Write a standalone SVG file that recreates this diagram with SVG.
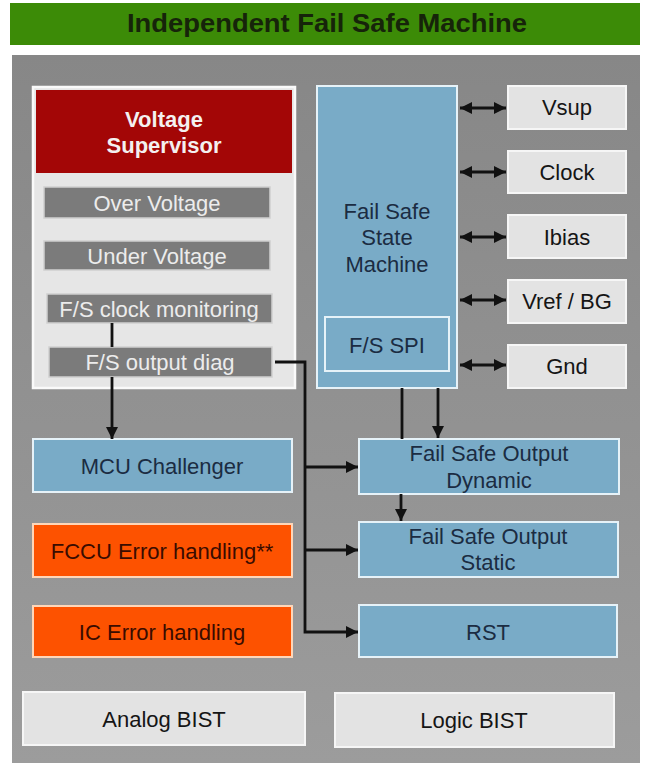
<svg xmlns="http://www.w3.org/2000/svg" width="646" height="763" viewBox="0 0 646 763">
  <defs>
    <linearGradient id="panelGrad" x1="0" y1="0" x2="0" y2="1">
      <stop offset="0" stop-color="#878787"/>
      <stop offset="1" stop-color="#9c9c9c"/>
    </linearGradient>
    <marker id="ah" viewBox="0 0 10 10" refX="10" refY="5" markerWidth="13" markerHeight="12" markerUnits="userSpaceOnUse" orient="auto-start-reverse">
      <path d="M0,0 L10,5 L0,10 z" fill="#111"/>
    </marker>
    <style>
      text { font-family: "Liberation Sans", Arial, sans-serif; font-size: 22px; text-anchor: middle; }
      .title { font-weight: bold; font-size: 25px; fill: #16240a; }
      .hdr { font-weight: bold; fill: #f4f0f0; }
      .blue rect { fill: #79abc7; stroke: #e6f2f8; stroke-width: 2; }
      .blue text { fill: #1b2c42; }
      .pill rect { fill: #7b7b7b; stroke: #d0d0d0; stroke-width: 1.5; }
      .pill text { fill: #ececec; }
      .orange rect { fill: #fd5200; stroke: #ffd6b8; stroke-width: 2; }
      .orange text { fill: #3a0c00; }
      .light rect { fill: #e3e3e3; stroke: #f6f6f6; stroke-width: 2; }
      .light text { fill: #151515; }
      .wire { fill: none; stroke: #111; stroke-width: 2.8; }
    </style>
  </defs>

  <!-- title bar and background panel -->
  <rect x="0" y="0" width="646" height="763" fill="#ffffff"/>
  <rect x="10" y="3" width="630" height="42" fill="#3c8b07"/>
  <text class="title" x="327" y="32" textLength="400" lengthAdjust="spacingAndGlyphs">Independent Fail Safe Machine</text>
  <rect x="12" y="55" width="628" height="708" fill="url(#panelGrad)"/>

  <!-- voltage supervisor block -->
  <g id="voltage-supervisor">
    <rect x="33" y="87" width="262" height="301" fill="#e6e6e6" stroke="#fafafa" stroke-width="2.5"/>
    <rect x="36" y="90" width="256" height="83" fill="#a30606"/>
    <text class="hdr" x="164" y="127">Voltage</text>
    <text class="hdr" x="164" y="153">Supervisor</text>
  </g>
  <g id="over-voltage" class="pill">
    <rect x="44" y="187" width="226" height="31"/>
    <text x="157" y="211">Over Voltage</text>
  </g>
  <g id="under-voltage" class="pill">
    <rect x="44" y="241" width="226" height="29"/>
    <text x="157" y="264">Under Voltage</text>
  </g>
  <g id="clock-monitoring" class="pill">
    <rect x="47" y="294" width="225" height="29"/>
    <text x="159" y="317">F/S clock monitoring</text>
  </g>
  <g id="output-diag" class="pill">
    <rect x="49" y="347" width="223" height="30"/>
    <text x="160" y="370">F/S output diag</text>
  </g>

  <!-- left column blocks -->
  <g id="mcu-challenger" class="blue">
    <rect x="33" y="439" width="259" height="53"/>
    <text x="162" y="474">MCU Challenger</text>
  </g>
  <g id="fccu-error" class="orange">
    <rect x="33" y="524" width="259" height="53"/>
    <text x="162" y="559">FCCU Error handling**</text>
  </g>
  <g id="ic-error" class="orange">
    <rect x="33" y="606" width="259" height="51"/>
    <text x="162" y="640">IC Error handling</text>
  </g>

  <!-- fail safe state machine -->
  <g id="state-machine" class="blue">
    <rect x="317" y="86" width="140" height="302"/>
    <text x="387" y="219">Fail Safe</text>
    <text x="387" y="245">State</text>
    <text x="387" y="272">Machine</text>
  </g>
  <g id="fs-spi" class="blue">
    <rect x="325" y="317" width="124" height="54" stroke-width="2.5"/>
    <text x="387" y="353">F/S SPI</text>
  </g>

  <!-- reference resources -->
  <g id="vsup" class="light">
    <rect x="508" y="86" width="118" height="43"/>
    <text x="567" y="115">Vsup</text>
  </g>
  <g id="clock" class="light">
    <rect x="508" y="151" width="118" height="42"/>
    <text x="567" y="180">Clock</text>
  </g>
  <g id="ibias" class="light">
    <rect x="508" y="215" width="118" height="43"/>
    <text x="567" y="245">Ibias</text>
  </g>
  <g id="vref-bg" class="light">
    <rect x="508" y="280" width="118" height="43"/>
    <text x="567" y="309">Vref / BG</text>
  </g>
  <g id="gnd" class="light">
    <rect x="508" y="345" width="118" height="43"/>
    <text x="567" y="374">Gnd</text>
  </g>

  <!-- outputs -->
  <g id="fso-dynamic" class="blue">
    <rect x="359" y="439" width="260" height="55"/>
    <text x="489" y="461">Fail Safe Output</text>
    <text x="489" y="488">Dynamic</text>
  </g>
  <g id="fso-static" class="blue">
    <rect x="359" y="522" width="259" height="55"/>
    <text x="488" y="544">Fail Safe Output</text>
    <text x="488" y="570">Static</text>
  </g>
  <g id="rst" class="blue">
    <rect x="359" y="605" width="258" height="52"/>
    <text x="488" y="640">RST</text>
  </g>

  <!-- built-in self tests -->
  <g id="analog-bist" class="light">
    <rect x="23" y="692" width="282" height="53"/>
    <text x="164" y="727">Analog BIST</text>
  </g>
  <g id="logic-bist" class="light">
    <rect x="335" y="693" width="279" height="54"/>
    <text x="474" y="728">Logic BIST</text>
  </g>

  <!-- connectors -->
  <g id="connectors">
    <line class="wire" x1="112" y1="323" x2="112" y2="347"/>
    <line class="wire" x1="112" y1="377" x2="112" y2="439" marker-end="url(#ah)"/>
    <polyline class="wire" points="275,362 305,362 305,632 358,632" marker-end="url(#ah)"/>
    <line class="wire" x1="305" y1="467" x2="358" y2="467" marker-end="url(#ah)"/>
    <line class="wire" x1="305" y1="550" x2="358" y2="550" marker-end="url(#ah)"/>
    <line class="wire" x1="402" y1="388" x2="402" y2="439"/>
    <line class="wire" x1="438" y1="388" x2="438" y2="438" marker-end="url(#ah)"/>
    <line class="wire" x1="401" y1="494" x2="401" y2="521" marker-end="url(#ah)"/>
    <line class="wire" x1="460" y1="108" x2="506" y2="108" marker-start="url(#ah)" marker-end="url(#ah)"/>
    <line class="wire" x1="460" y1="172" x2="506" y2="172" marker-start="url(#ah)" marker-end="url(#ah)"/>
    <line class="wire" x1="460" y1="237" x2="506" y2="237" marker-start="url(#ah)" marker-end="url(#ah)"/>
    <line class="wire" x1="460" y1="300" x2="506" y2="300" marker-start="url(#ah)" marker-end="url(#ah)"/>
    <line class="wire" x1="460" y1="365" x2="506" y2="365" marker-start="url(#ah)" marker-end="url(#ah)"/>
  </g>
</svg>
